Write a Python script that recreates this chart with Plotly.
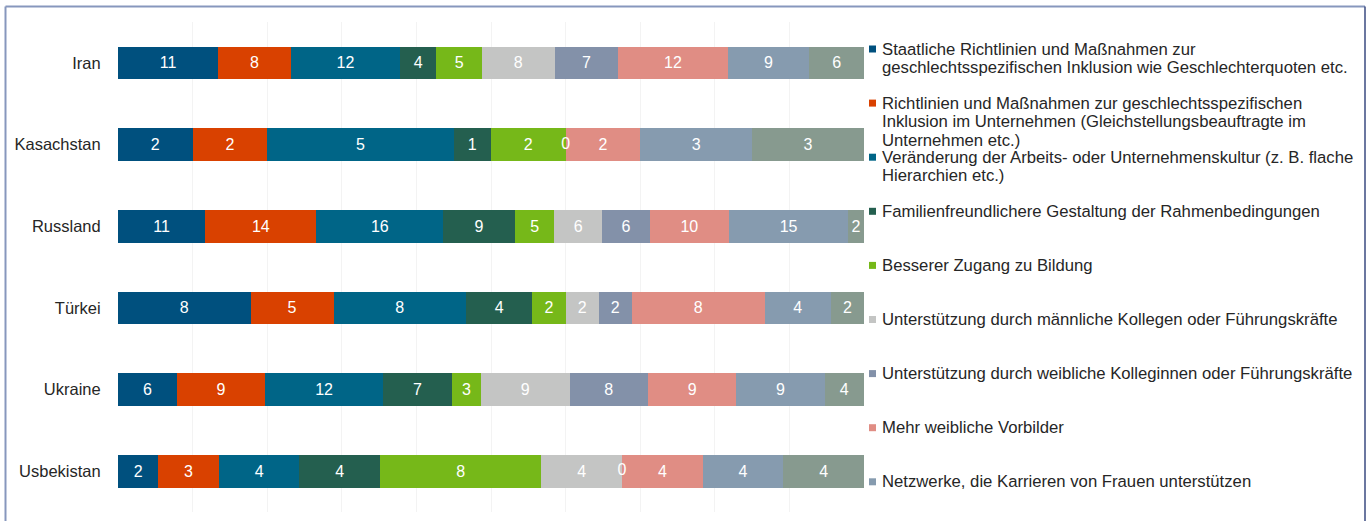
import plotly.graph_objects as go

# Countries (top to bottom)
countries = ["Iran", "Kasachstan", "Russland", "Türkei", "Ukraine", "Usbekistan"]

# Legend entries, one list of text lines per series
legend_lines = [
    ["Staatliche Richtlinien und Maßnahmen zur",
     "geschlechtsspezifischen Inklusion wie Geschlechterquoten etc."],
    ["Richtlinien und Maßnahmen zur geschlechtsspezifischen",
     "Inklusion im Unternehmen (Gleichstellungsbeauftragte im",
     "Unternehmen etc.)"],
    ["Veränderung der Arbeits- oder Unternehmenskultur (z. B. flache",
     "Hierarchien etc.)"],
    ["Familienfreundlichere Gestaltung der Rahmenbedingungen"],
    ["Besserer Zugang zu Bildung"],
    ["Unterstützung durch männliche Kollegen oder Führungskräfte"],
    ["Unterstützung durch weibliche Kolleginnen oder Führungskräfte"],
    ["Mehr weibliche Vorbilder"],
    ["Netzwerke, die Karrieren von Frauen unterstützen"],
    ["Sonstiges"],
]

# Counts per series, in the order of `countries`
staatlich = [11, 2, 11, 8, 6, 2]
unternehmen = [8, 2, 14, 5, 9, 3]
kultur = [12, 5, 16, 8, 12, 4]
familie = [4, 1, 9, 4, 7, 4]
bildung = [5, 2, 5, 2, 3, 8]
maennlich = [8, 0, 6, 2, 9, 4]
weiblich = [7, None, 6, 2, 8, 0]
vorbilder = [12, 2, 10, 8, 9, 4]
netzwerke = [9, 3, 15, 4, 9, 4]
sonstiges = [6, 3, 2, 2, 4, 4]

series_values = [staatlich, unternehmen, kultur, familie, bildung,
                 maennlich, weiblich, vorbilder, netzwerke, sonstiges]

colors = ["#00507E", "#D94100", "#006587", "#245F4F", "#76B819",
          "#C4C5C4", "#8391A9", "#E08D84", "#869BAF", "#879A8F"]

FONT = "Liberation Sans, Arial, sans-serif"
W, H = 1370, 521
L, R, T, B = 118, 506, 22, 9
PW, PH = W - L - R, H - T - B


def px_x(x):
    return (x - L) / PW


def px_y(y):
    return 1 - (y - T) / PH


fig = go.Figure()
for lines, vals, col in zip(legend_lines, series_values, colors):
    fig.add_trace(go.Bar(
        y=countries,
        x=vals,
        name=" ".join(lines),
        orientation="h",
        marker=dict(color=col, line=dict(width=0)),
        text=["" if v is None else str(v) for v in vals],
        textposition="inside",
        insidetextanchor="middle",
        constraintext="none",
        textangle=0,
        textfont=dict(family=FONT, size=16, color="white"),
        cliponaxis=False,
        showlegend=False,
    ))

# Zero-valued segments have no width, so their "0" labels are placed
# at the stacked position (in percent of the row total) where they sit.
totals = [sum(v[c] or 0 for v in series_values) for c in range(len(countries))]
zero_x, zero_y = [], []
for c, country in enumerate(countries):
    running = 0
    for vals in series_values:
        v = vals[c]
        if v == 0:
            zero_x.append(100 * running / totals[c])
            zero_y.append(country)
        running += v or 0
fig.add_trace(go.Scatter(
    x=zero_x, y=zero_y, mode="text", text=["0"] * len(zero_x),
    textposition="middle center", cliponaxis=False, showlegend=False,
    textfont=dict(family=FONT, size=16, color="white"),
))

# Legend on the right: square swatch plus wrapped text lines
shapes = []
annotations = []
for i, (lines, col) in enumerate(zip(legend_lines[:9], colors[:9])):
    yc = 49 + 54.1 * i
    shapes.append(dict(type="rect", xref="paper", yref="paper",
                       x0=px_x(869), x1=px_x(876),
                       y0=px_y(yc + 3.5), y1=px_y(yc - 3.5),
                       fillcolor=col, line=dict(width=0)))
    for k, line in enumerate(lines):
        annotations.append(dict(
            xref="paper", yref="paper", x=px_x(879.5), y=px_y(yc + 18.5 * k),
            xanchor="left", yanchor="middle", text=line, showarrow=False,
            align="left", font=dict(family=FONT, size=16.7, color="#262626")))

# Chart frame
shapes.append(dict(type="line", xref="paper", yref="paper",
                   x0=px_x(5.5), x1=px_x(5.5), y0=px_y(6.5), y1=px_y(540),
                   line=dict(color="#8797BD", width=2)))
shapes.append(dict(type="line", xref="paper", yref="paper",
                   x0=px_x(5.5), x1=px_x(1365), y0=px_y(6.5), y1=px_y(6.5),
                   line=dict(color="#8797BD", width=2)))
shapes.append(dict(type="line", xref="paper", yref="paper",
                   x0=px_x(1365), x1=px_x(1365), y0=px_y(6.5), y1=px_y(540),
                   line=dict(color="#3A4A80", width=1.5)))

fig.update_layout(
    width=W, height=H,
    margin=dict(l=L, r=R, t=T, b=B, pad=0),
    barmode="stack",
    barnorm="percent",
    bargap=0.6,
    plot_bgcolor="white",
    paper_bgcolor="white",
    font=dict(family=FONT, size=16.5, color="#262626"),
    showlegend=False,
    shapes=shapes,
    annotations=annotations,
    uniformtext=dict(mode=False),
)
fig.update_xaxes(range=[0, 100], dtick=10, showgrid=True, gridcolor="#F3F3F3",
                 gridwidth=1, zeroline=False, showticklabels=False,
                 showline=False, fixedrange=True)
fig.update_yaxes(categoryorder="array", categoryarray=countries,
                 autorange="reversed", showgrid=False, zeroline=False,
                 showline=False, ticks="outside", ticklen=13,
                 tickcolor="rgba(0,0,0,0)",
                 tickfont=dict(family=FONT, size=16.5, color="#262626"))

fig.write_html("out.html")
